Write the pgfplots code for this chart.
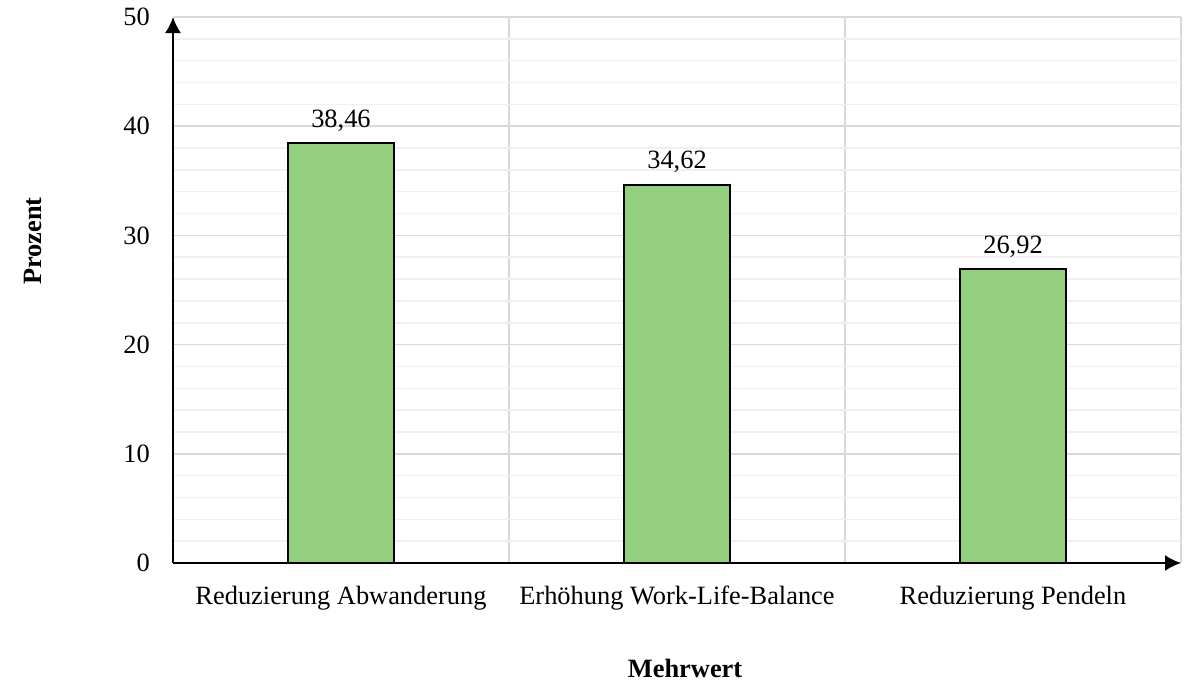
\documentclass[border=0pt]{standalone}
\usepackage{fontspec}
\setmainfont{Liberation Serif}
\usepackage{pgfplots}
\pgfplotsset{compat=1.18}
\usetikzlibrary{arrows.meta}
\definecolor{bargreen}{HTML}{93CF7E}
\definecolor{majgrid}{HTML}{D9D9D9}
\definecolor{mingrid}{HTML}{F0F0F0}
\begin{document}
\fontsize{13.2}{16}\selectfont
\begin{tikzpicture}
\path[use as bounding box] (-86.5pt,-59pt) rectangle (508pt,281.5pt);
\begin{axis}[
  scale only axis,
  width=504pt, height=273pt,
  xmin=-0.5, xmax=2.5,
  ymin=0, ymax=50,
  axis x line=bottom, axis y line=left,
  axis line style={line width=1pt, -{Latex[length=8pt,width=8pt]}},
  xtick={0,1,2},
  xticklabels={Reduzierung Abwanderung, Erhöhung Work-Life-Balance, Reduzierung Pendeln},
  minor xtick={0.5,1.5,2.5},
  xmajorgrids=false, xminorgrids=true,
  ytick={0,10,20,30,40,50},
  minor y tick num=4,
  ymajorgrids=true, yminorgrids=true,
  major grid style={majgrid, line width=0.75pt},
  minor y grid style={mingrid, line width=0.75pt},
  minor x grid style={majgrid, line width=0.75pt},
  major tick length=0pt, minor tick length=0pt,
  /pgf/number format/assume math mode=true,
  tick label style={font=\fontsize{13.2}{16}\selectfont},
  xticklabel style={anchor=base, yshift=-20.5pt},
  yticklabel style={anchor=east, xshift=-7pt},
  xlabel={Mehrwert}, ylabel={Prozent},
  every axis x label/.style={at={(axis description cs:0.508,-0.2088)}, anchor=base, font=\fontsize{13.2}{16}\selectfont\bfseries},
  every axis y label/.style={at={(axis description cs:-0.1389,0.5897)}, rotate=90, anchor=center, font=\fontsize{13.2}{16}\selectfont\bfseries},
  ybar, bar width=0.315,
  nodes near coords,
  nodes near coords style={anchor=base, yshift=8pt, font=\fontsize{13.2}{16}\selectfont,
    /pgf/number format/.cd, fixed, fixed zerofill, precision=2, use comma, assume math mode=true},
  clip=false,
  axis on top=false,
]
\addplot[fill=bargreen, draw=black, line width=0.75pt] coordinates {(0,38.46) (1,34.62) (2,26.92)};
\end{axis}
\end{tikzpicture}
\end{document}
